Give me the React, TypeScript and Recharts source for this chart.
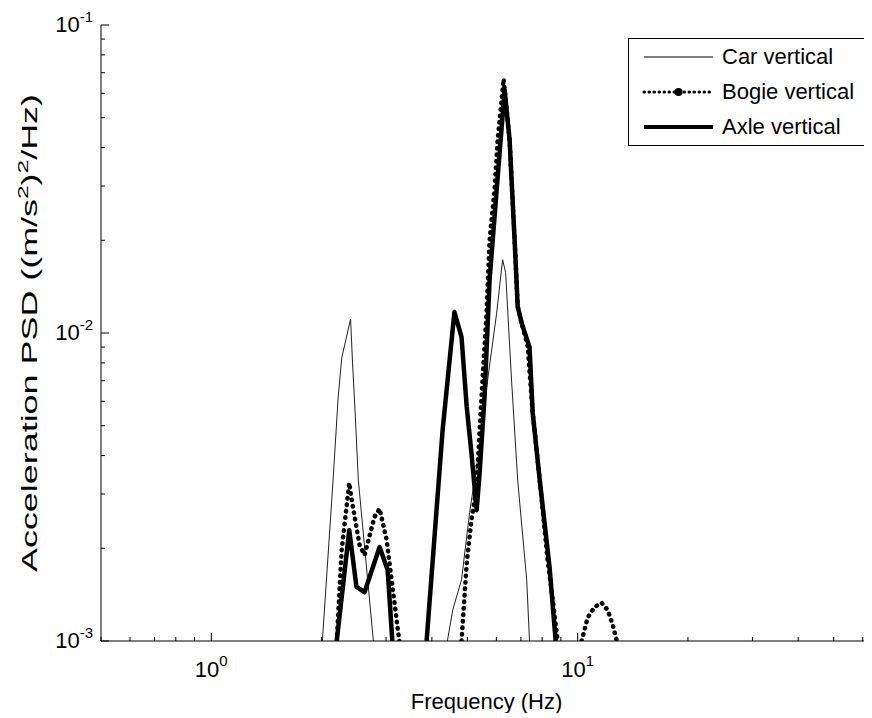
import React from 'react';
import { LineChart, Line, XAxis, YAxis, Legend } from 'recharts';

const FONT = '"Liberation Sans", Arial, Helvetica, sans-serif';

// ---- Data (frequency in Hz, PSD in (m/s^2)^2/Hz) ----
const CAR_FREQ = [2.01, 2.15, 2.22, 2.27, 2.40, 2.43, 2.47, 2.52, 2.77, 3.5, 4.41, 4.56, 4.82, 5.07, 5.40, 5.68, 6.01, 6.24, 6.36, 6.60, 6.86, 7.26, 7.39];
const CAR_PSD = [0.001, 0.00333, 0.00619, 0.0083, 0.0111, 0.0080, 0.0055, 0.00333, 0.001, null, 0.001, 0.00126, 0.00158, 0.00261, 0.00427, 0.00704, 0.0116, 0.0173, 0.0157, 0.00704, 0.00333, 0.00158, 0.001];

const BOGIE_FREQ = [2.20, 2.27, 2.38, 2.43, 2.54, 2.62, 2.79, 2.88, 3.01, 3.10, 3.26, 4.0, 4.82, 4.98, 5.13, 5.30, 5.40, 5.50, 5.64, 5.75, 5.93, 6.05, 6.28, 6.52, 6.73, 6.86, 7.03, 7.30, 7.54, 7.88, 8.28, 8.55, 8.82, 9.5, 10.25, 10.65, 11.13, 11.63, 12.08, 12.46, 12.79];
const BOGIE_PSD = [0.001, 0.00198, 0.00326, 0.00277, 0.00205, 0.0019, 0.00253, 0.00269, 0.00213, 0.00161, 0.001, null, 0.001, 0.00179, 0.00247, 0.00316, 0.00484, 0.00704, 0.0116, 0.0200, 0.0291, 0.0423, 0.0668, 0.0423, 0.0200, 0.0122, 0.0108, 0.0091, 0.0055, 0.00333, 0.00183, 0.00136, 0.001, null, 0.001, 0.00119, 0.00129, 0.00133, 0.00126, 0.00113, 0.001];

const AXLE_FREQ = [2.20, 2.38, 2.49, 2.62, 2.88, 3.03, 3.12, 3.5, 3.87, 4.28, 4.61, 4.82, 4.98, 5.13, 5.30, 5.40, 5.57, 5.75, 6.01, 6.32, 6.52, 6.73, 6.86, 7.03, 7.39, 7.54, 7.88, 8.38, 8.71];
const AXLE_PSD = [0.001, 0.00229, 0.0015, 0.00144, 0.00202, 0.0017, 0.001, null, 0.001, 0.00484, 0.0117, 0.0097, 0.00575, 0.00408, 0.00266, 0.00351, 0.0062, 0.0149, 0.0291, 0.0615, 0.0423, 0.0200, 0.0122, 0.0108, 0.0090, 0.0055, 0.00333, 0.00174, 0.001];

// ---- Axes ----
const X_DOMAIN = [0.5, 63.6];
const Y_DOMAIN = [0.001, 0.1];
const X_TICKS = [0.5, 0.6, 0.7, 0.8, 0.9, 1, 2, 3, 4, 5, 6, 7, 8, 9, 10, 20, 30, 40, 50, 60];
const Y_TICKS = [0.001, 0.002, 0.003, 0.004, 0.005, 0.006, 0.007, 0.008, 0.009, 0.01, 0.02, 0.03, 0.04, 0.05, 0.06, 0.07, 0.08, 0.09, 0.1];
const X_TICK_LABELS: Record<string, [string, string]> = { '1': ['10', '0'], '10': ['10', '1'] };
const Y_TICK_LABELS: Record<string, [string, string]> = { '0.001': ['10', '-3'], '0.01': ['10', '-2'], '0.1': ['10', '-1'] };

const X_TITLE = 'Frequency (Hz)';
const SERIES_NAMES = ['Car vertical', 'Bogie vertical', 'Axle vertical'];

const toPoints = (fs: number[], vs: (number | null)[]) => fs.map((f, i) => ({ f, v: vs[i] }));
const CAR = toPoints(CAR_FREQ, CAR_PSD);
const BOGIE = toPoints(BOGIE_FREQ, BOGIE_PSD);
const AXLE = toPoints(AXLE_FREQ, AXLE_PSD);

const isMajor = (v: number) => Math.abs(Math.log10(v) - Math.round(Math.log10(v))) < 1e-6;

const BottomTick = (props: any) => {
  const { x, y, payload } = props;
  const v = payload.value;
  const major = isMajor(v);
  const len = major ? 8 : 4;
  const lab = X_TICK_LABELS[String(v)];
  return (
    <g>
      <line x1={x} x2={x} y1={y} y2={y - len} stroke="#000" strokeWidth={1} />
      {lab && (
        <text x={x} y={y + 36} textAnchor="middle" fontFamily={FONT} fontSize={22} fill="#000">
          {lab[0]}
          <tspan dy={-11} fontSize={15}>{lab[1]}</tspan>
        </text>
      )}
    </g>
  );
};

const TopTick = (props: any) => {
  const { x, y, payload } = props;
  const len = isMajor(payload.value) ? 8 : 4;
  return <line x1={x} x2={x} y1={y} y2={y + len} stroke="#000" strokeWidth={1} />;
};

const LeftTick = (props: any) => {
  const { x, y, payload } = props;
  const v = payload.value;
  const major = isMajor(v);
  const len = major ? 8 : 4;
  const lab = Y_TICK_LABELS[String(v)];
  return (
    <g>
      <line x1={x} x2={x + len} y1={y} y2={y} stroke="#000" strokeWidth={1} />
      {lab && (
        <text x={x - 8} y={y + 7} textAnchor="end" fontFamily={FONT} fontSize={22} fill="#000">
          {lab[0]}
          <tspan dy={-10} fontSize={15}>{lab[1]}</tspan>
        </text>
      )}
    </g>
  );
};

const XTitle = (props: any) => {
  const vb = props.viewBox || { x: 93, y: 633, width: 771, height: 72 };
  return (
    <text x={vb.x + vb.width / 2} y={vb.y + 68} textAnchor="middle" fontFamily={FONT} fontSize={22} fill="#000">
      {X_TITLE}
    </text>
  );
};

const YTitle = (props: any) => {
  const vb = props.viewBox || { x: 0, y: 17, width: 93, height: 616 };
  const cx = 29;
  const cy = vb.y + vb.height / 2;
  return (
    <text
      x={cx}
      y={cy}
      transform={`rotate(-90, ${cx}, ${cy})`}
      textAnchor="middle"
      fontFamily={FONT}
      fontSize={22}
      fill="#000"
      textLength={478}
      lengthAdjust="spacingAndGlyphs"
    >
      Acceleration PSD ((m/s
      <tspan dy={-9} fontSize={15}>2</tspan>
      <tspan dy={9}>)</tspan>
      <tspan dy={-9} fontSize={15}>2</tspan>
      <tspan dy={9}>/Hz)</tspan>
    </text>
  );
};

const LEGEND_STYLES = [
  { width: 1, dash: undefined as string | undefined, cap: 'butt' as const, marker: false },
  { width: 3, dash: '0.5 4.5', cap: 'round' as const, marker: true },
  { width: 4, dash: undefined as string | undefined, cap: 'butt' as const, marker: false },
];

const LegendBox = () => (
  <div
    style={{
      width: 242,
      height: 108,
      border: '1px solid #000',
      boxSizing: 'border-box',
      background: '#fff',
      position: 'relative',
      fontFamily: FONT,
      fontSize: 22,
      color: '#000',
    }}
  >
    {SERIES_NAMES.map((name, i) => {
      const s = LEGEND_STYLES[i];
      return (
        <div key={name} style={{ position: 'absolute', left: 0, top: 18 + i * 35 - 14, height: 28, width: '100%' }}>
          <svg width={86} height={28} style={{ position: 'absolute', left: 0, top: 0 }}>
            <line x1={15} x2={84} y1={14} y2={14} stroke="#000" strokeWidth={s.width} strokeDasharray={s.dash} strokeLinecap={s.cap} />
            {s.marker && <circle cx={49.5} cy={14} r={4} fill="#000" />}
          </svg>
          <span style={{ position: 'absolute', left: 93, top: 0, lineHeight: '28px', whiteSpace: 'nowrap' }}>{name}</span>
        </div>
      );
    })}
  </div>
);

export default function App() {
  return (
    <div style={{ width: 864, height: 705, background: '#fff' }}>
      <LineChart width={864} height={705} margin={{ top: 17, right: 0, bottom: 0, left: 0 }}>
        <XAxis
          xAxisId="b"
          dataKey="f"
          type="number"
          scale="log"
          domain={X_DOMAIN}
          allowDataOverflow
          ticks={X_TICKS}
          interval={0}
          tickLine={false}
          tickSize={0}
          tickMargin={0}
          tick={(p: any) => <BottomTick {...p} />}
          axisLine={{ stroke: '#000', strokeWidth: 1 }}
          height={72}
          label={(p: any) => <XTitle {...p} />}
        />
        <XAxis
          xAxisId="t"
          orientation="top"
          dataKey="f"
          type="number"
          scale="log"
          domain={X_DOMAIN}
          allowDataOverflow
          ticks={X_TICKS}
          interval={0}
          tickLine={false}
          tickSize={0}
          tickMargin={0}
          tick={(p: any) => <TopTick {...p} />}
          axisLine={{ stroke: '#000', strokeWidth: 1 }}
          height={0}
        />
        <YAxis
          yAxisId="l"
          type="number"
          scale="log"
          domain={Y_DOMAIN}
          allowDataOverflow
          ticks={Y_TICKS}
          interval={0}
          tickLine={false}
          tickSize={0}
          tickMargin={0}
          tick={(p: any) => <LeftTick {...p} />}
          axisLine={{ stroke: '#000', strokeWidth: 1 }}
          width={93}
          label={(p: any) => <YTitle {...p} />}
        />
        <Line
          xAxisId="b"
          yAxisId="l"
          data={CAR}
          dataKey="v"
          name={SERIES_NAMES[0]}
          type="linear"
          stroke="#222"
          strokeWidth={1}
          dot={false}
          activeDot={false}
          isAnimationActive={false}
        />
        <Line
          xAxisId="b"
          yAxisId="l"
          data={BOGIE}
          dataKey="v"
          name={SERIES_NAMES[1]}
          type="linear"
          stroke="#000"
          strokeWidth={4.5}
          strokeDasharray="0.5 6"
          strokeLinecap="round"
          dot={false}
          activeDot={false}
          isAnimationActive={false}
        />
        <Line
          xAxisId="b"
          yAxisId="l"
          data={AXLE}
          dataKey="v"
          name={SERIES_NAMES[2]}
          type="linear"
          stroke="#000"
          strokeWidth={4.5}
          strokeLinejoin="round"
          dot={false}
          activeDot={false}
          isAnimationActive={false}
        />
        <Legend
          layout="vertical"
          align="center"
          verticalAlign="middle"
          content={() => <LegendBox />}
          wrapperStyle={{ left: 620, top: 30, width: 242, height: 108 }}
        />
      </LineChart>
    </div>
  );
}
